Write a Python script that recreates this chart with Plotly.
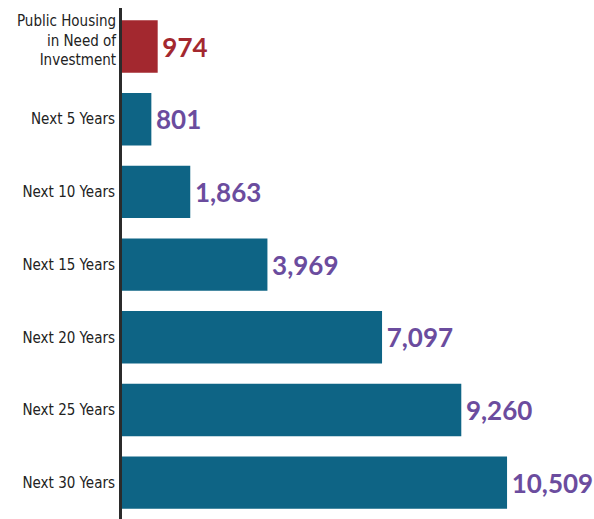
import plotly.graph_objects as go

categories = ["Public Housing<br>in Need of<br>Investment", "Next 5 Years", "Next 10 Years",
              "Next 15 Years", "Next 20 Years", "Next 25 Years", "Next 30 Years"]
values = [974, 801, 1863, 3969, 7097, 9260, 10509]
labels = ["974", "801", "1,863", "3,969", "7,097", "9,260", "10,509"]
bar_colors = ["#a3282f"] + ["#0e6485"] * 6
label_colors = ["#a3282f"] + ["#6b4c9e"] * 6

fig = go.Figure(go.Bar(
    x=values, y=categories, orientation="h",
    marker=dict(color=bar_colors, line=dict(width=0)),
    text=labels, texttemplate="\u200a%{text}", textposition="outside", cliponaxis=False,
    textfont=dict(family="Lato, Open Sans, sans-serif", size=26, color=label_colors, weight="bold"),
    hoverinfo="skip",
))

tickfont = dict(family="DejaVu Sans Condensed, Liberation Sans Narrow, sans-serif", size=15, color="#222")

# first (three-line) category label sits a little above its bar centre, so draw it as an annotation
fig.add_annotation(x=0, xref="paper", y=categories[0], yref="y", text=categories[0],
                   showarrow=False, xanchor="right", yanchor="middle", align="right",
                   xshift=-3, yshift=6, font=tickfont)

fig.update_layout(
    width=594, height=519,
    margin=dict(l=122, r=0, t=8, b=0),
    paper_bgcolor="white", plot_bgcolor="white",
    bargap=0.28, showlegend=False,
    xaxis=dict(range=[0, 12882], visible=False),
    yaxis=dict(range=[6.50, -0.53], showline=True, linecolor="#2b2b2b", linewidth=3,
               showgrid=False, ticks="", ticklabelstandoff=1, automargin=False,
               tickmode="array", tickvals=categories, ticktext=[""] + categories[1:],
               tickfont=tickfont),
)

fig.write_html("out.html", config={"displayModeBar": False},
               post_script="document.body.style.margin='0';document.body.style.overflow='hidden';")
